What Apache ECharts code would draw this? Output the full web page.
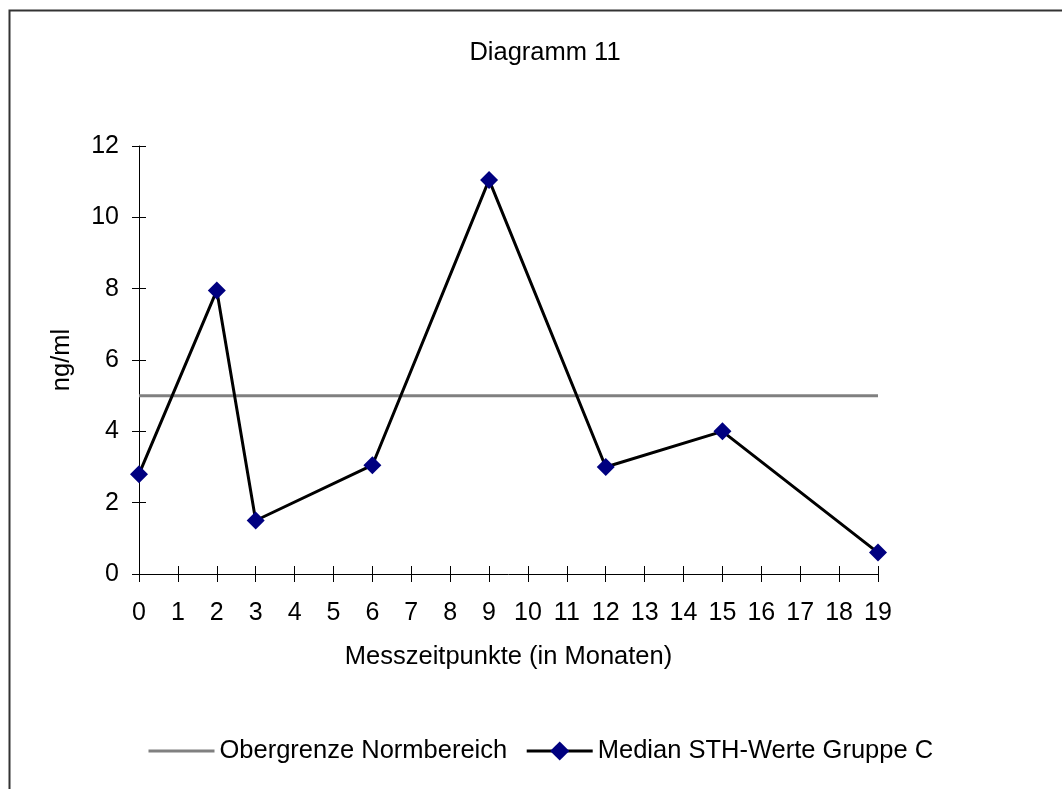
<!DOCTYPE html>
<html>
<head>
<meta charset="utf-8">
<script src="https://cdn.jsdelivr.net/npm/echarts@6/dist/echarts.min.js"></script>
<style>
html,body{margin:0;padding:0;background:#fff;}
#chart{width:1062px;height:789px;}
</style>
</head>
<body>
<div id="chart"></div>
<script>
var months = [0, 2, 3, 6, 9, 12, 15, 19];
var medianValues = [2.8, 7.95, 1.5, 3.05, 11.05, 3.0, 4.0, 0.6];
var limitX = [0, 19];
var limitValues = [5, 5];
var titleText = 'Diagramm 11';
var seriesNames = ['Obergrenze Normbereich', 'Median STH-Werte Gruppe C'];
var xName = 'Messzeitpunkte (in Monaten)';
var yName = 'ng/ml';

var font = 'Arial, "Liberation Sans", sans-serif';
var chart = echarts.init(document.getElementById('chart'), null, {renderer: 'canvas'});

function pairs(xs, ys) { return xs.map(function (x, i) { return [x, ys[i]]; }); }

var option = {
  backgroundColor: '#fff',
  animation: false,
  title: {
    text: titleText, left: 540, top: 35, textAlign: 'center',
    textStyle: {fontFamily: font, fontSize: 25.5, fontWeight: 'normal', color: '#000'}
  },
  graphic: [{
    type: 'rect', shape: {x: 9.5, y: 10.5, width: 1200, height: 900},
    style: {fill: 'none', stroke: '#333', lineWidth: 2}, silent: true, z: -1
  }],
  legend: {
    left: 142, top: 733, itemWidth: 66, itemHeight: 24, itemGap: 18,
    textStyle: {fontFamily: font, fontSize: 25.5, color: '#000'},
    data: [
      {name: seriesNames[0], itemStyle: {opacity: 0}, lineStyle: {width: 3, color: '#808080'}},
      {name: seriesNames[1], lineStyle: {width: 3, color: '#000'}}
    ]
  },
  grid: {left: 139, right: 184, top: 146, bottom: 215, containLabel: false},
  xAxis: [{
    type: 'value', min: 0, max: 19, interval: 1, position: 'bottom',
    name: xName, nameLocation: 'middle', nameGap: 70,
    nameTextStyle: {fontFamily: font, fontSize: 25.5, color: '#000'},
    axisLine: {show: true, onZero: false, lineStyle: {color: '#000', width: 1}},
    axisTick: {show: true, inside: false, length: 8, lineStyle: {color: '#000'}},
    axisLabel: {fontFamily: font, fontSize: 25, color: '#000', margin: 27},
    splitLine: {show: false}
  }, {
    type: 'value', min: 0, max: 19, interval: 1, position: 'bottom',
    axisLine: {show: false, onZero: false},
    axisTick: {show: true, inside: true, length: 8, lineStyle: {color: '#000'}},
    axisLabel: {show: false}, splitLine: {show: false}
  }],
  yAxis: [{
    type: 'value', min: 0, max: 12, interval: 2, position: 'left',
    name: yName, nameLocation: 'middle', nameGap: 64,
    nameTextStyle: {fontFamily: font, fontSize: 25.5, color: '#000'},
    axisLine: {show: true, onZero: false, lineStyle: {color: '#000', width: 1}},
    axisTick: {show: true, inside: false, length: 7, lineStyle: {color: '#000'}},
    axisLabel: {fontFamily: font, fontSize: 25, color: '#000', margin: 20},
    splitLine: {show: false}
  }, {
    type: 'value', min: 0, max: 12, interval: 2, position: 'left',
    axisLine: {show: false, onZero: false},
    axisTick: {show: true, inside: true, length: 7, lineStyle: {color: '#000'}},
    axisLabel: {show: false}, splitLine: {show: false}
  }],
  series: [{
    name: seriesNames[0], type: 'line', xAxisIndex: 0, yAxisIndex: 0,
    data: pairs(limitX, limitValues), symbol: 'none',
    lineStyle: {color: '#808080', width: 3}, itemStyle: {color: '#808080'}
  }, {
    name: seriesNames[1], type: 'line', xAxisIndex: 0, yAxisIndex: 0,
    data: pairs(months, medianValues), symbol: 'diamond', symbolSize: 18,
    showAllSymbol: true,
    lineStyle: {color: '#000', width: 3},
    itemStyle: {color: '#000080', borderWidth: 0}, z: 3
  }]
};
chart.setOption(option);
</script>
</body>
</html>
